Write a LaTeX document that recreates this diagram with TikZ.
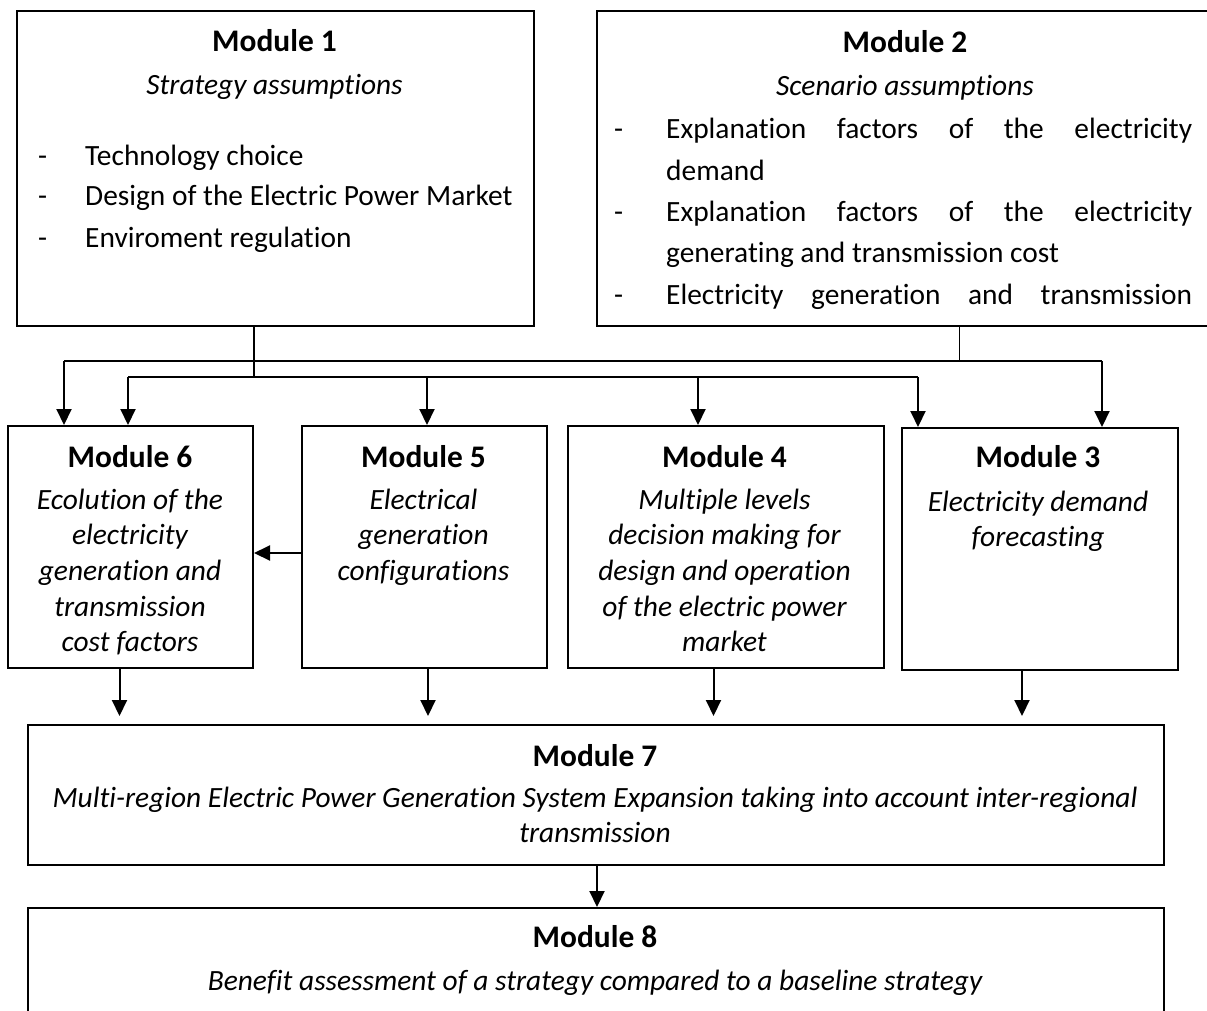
\documentclass[tikz,border=0pt]{standalone}
\usepackage{fontspec}
\setmainfont{Carlito}[RawFeature={-liga;-clig;-calt;-dlig}]
\usetikzlibrary{arrows.meta}
\tikzset{
  box/.style={draw, line width=2pt, inner sep=0pt, anchor=north west},
  ttl/.style={anchor=base, inner sep=0pt, font=\fontsize{31.4}{37}\selectfont\bfseries},
  txt/.style={anchor=base west, inner sep=0pt, font=\fontsize{29.4}{35}\selectfont},
  itx/.style={anchor=base, inner sep=0pt, font=\fontsize{29.4}{35}\selectfont\itshape},
  wire/.style={line width=2pt},
  arr/.style={line width=2pt, -{Triangle[length=16pt,width=15pt]}},
}
\begin{document}
\begin{tikzpicture}[x=1pt,y=-1pt]
\useasboundingbox (0,0) rectangle (1207,1010);
\clip (0,0) rectangle (1207,1010);

% ---------- boxes ----------
\node[box, minimum width=517pt, minimum height=315pt] (m1) at (16,10) {};
\node[box, minimum width=620pt, minimum height=315pt] (m2) at (596,10) {};
\node[box, minimum width=245pt, minimum height=242pt] (m6) at (7,425) {};
\node[box, minimum width=245pt, minimum height=242pt] (m5) at (301,425) {};
\node[box, minimum width=316pt, minimum height=242pt] (m4) at (567,425) {};
\node[box, minimum width=276pt, minimum height=242pt] (m3) at (901,427) {};
\node[box, minimum width=1136pt, minimum height=140pt] (m7) at (27,724) {};
\node[box, minimum width=1136pt, minimum height=140pt] (m8) at (27,907) {};

% ---------- Module 1 ----------
\node[ttl] (m1t) at (274.5,51) {Module 1};
\node[itx] (m1s) at (274.5,94) {Strategy assumptions};
\node[txt] (m1d1) at (38,165) {-};
\node[txt] (m1i1) at (85,165) {Technology choice};
\node[txt] (m1d2) at (38,205) {-};
\node[txt] (m1i2) at (85,205) {Design of the Electric Power Market};
\node[txt] (m1d3) at (38,247) {-};
\node[txt] (m1i3) at (85,247) {Enviroment regulation};

% ---------- Module 2 ----------
\node[ttl] (m2t) at (905,52) {Module 2};
\node[itx] (m2s) at (905,95) {Scenario assumptions};
\node[txt] (m2d1) at (614,138) {-};
\node[txt] (m2i1) at (666,138) {\makebox[526pt][s]{Explanation factors of the electricity}};
\node[txt] (m2i1b) at (666,180) {demand};
\node[txt] (m2d2) at (614,221) {-};
\node[txt] (m2i2) at (666,221) {\makebox[526pt][s]{Explanation factors of the electricity}};
\node[txt] (m2i2b) at (666,262) {generating and transmission cost};
\node[txt] (m2d3) at (614,304) {-};
\node[txt] (m2i3) at (666,304) {\makebox[526pt][s]{Electricity generation and transmission}};

% ---------- Module 6 ----------
\node[ttl] (m6t) at (130,467) {Module 6};
\node[itx] (m6a) at (130,509) {Ecolution of the};
\node[itx] (m6b) at (130,544) {electricity};
\node[itx] (m6c) at (130,580) {generation and};
\node[itx] (m6d) at (130,616) {transmission};
\node[itx] (m6e) at (130,651) {cost factors};

% ---------- Module 5 ----------
\node[ttl] (m5t) at (423.5,467) {Module 5};
\node[itx] (m5a) at (423.5,509) {Electrical};
\node[itx] (m5b) at (423.5,544) {generation};
\node[itx] (m5c) at (423.5,580) {configurations};

% ---------- Module 4 ----------
\node[ttl] (m4t) at (724.5,467) {Module 4};
\node[itx] (m4a) at (724.5,509) {Multiple levels};
\node[itx] (m4b) at (724.5,544) {decision making for};
\node[itx] (m4c) at (724.5,580) {design and operation};
\node[itx] (m4d) at (724.5,616) {of the electric power};
\node[itx] (m4e) at (724.5,651) {market};

% ---------- Module 3 ----------
\node[ttl] (m3t) at (1038,467) {Module 3};
\node[itx] (m3a) at (1038,511) {Electricity demand};
\node[itx] (m3b) at (1038,546) {forecasting};

% ---------- Module 7 ----------
\node[ttl] (m7t) at (595,766) {Module 7};
\node[itx] (m7a) at (595,807) {Multi-region Electric Power Generation System Expansion taking into account inter-regional};
\node[itx] (m7b) at (595,842) {transmission};

% ---------- Module 8 ----------
\node[ttl] (m8t) at (595,947) {Module 8};
\node[itx] (m8a) at (595,990) {Benefit assessment of a strategy compared to a baseline strategy};

% ---------- distribution buses ----------
\coordinate (j1) at (254,377);
\coordinate (j1w) at (128,377);
\coordinate (j1e) at (918,377);
\coordinate (t5) at (427,377);
\coordinate (t4) at (698,377);
\coordinate (j2) at (959,361);
\coordinate (j2w) at (64,361);
\coordinate (j2e) at (1102,361);

\draw[line width=1.3pt] (m1.south -| j1) -- (j1);
\draw[wire] (j1w) -- (j1e);
\draw[line width=1pt] (m2.south -| j2) -- (j2);
\draw[wire] (j2w) -- (j2e);

\draw[arr] (j2w) -- (j2w |- m6.north);
\draw[arr] (j1w) -- (j1w |- m6.north);
\draw[arr] (t5) -- (t5 |- m5.north);
\draw[arr] (t4) -- (t4 |- m4.north);
\draw[arr] (j1e) -- (j1e |- m3.north);
\draw[arr] (j2e) -- (j2e |- m3.north);

% Module 5 feeds Module 6
\draw[arr] (m5.west |- 0,553) -- (m6.east |- 0,553);

% row modules feed Module 7
\draw[arr, shorten >=8pt] ([xshift=-11pt]m6.south) -- ([xshift=-11pt]m6.south |- m7.north);
\draw[arr, shorten >=8pt] ([xshift=3.5pt]m5.south) -- ([xshift=3.5pt]m5.south |- m7.north);
\draw[arr, shorten >=8pt] ([xshift=-12.5pt]m4.south) -- ([xshift=-12.5pt]m4.south |- m7.north);
\draw[arr, shorten >=8pt] ([xshift=-18pt]m3.south) -- ([xshift=-18pt]m3.south |- m7.north);

% Module 7 feeds Module 8
\draw[arr] ([xshift=1pt]m7.south) -- ([xshift=1pt]m8.north);
\end{tikzpicture}
\end{document}
